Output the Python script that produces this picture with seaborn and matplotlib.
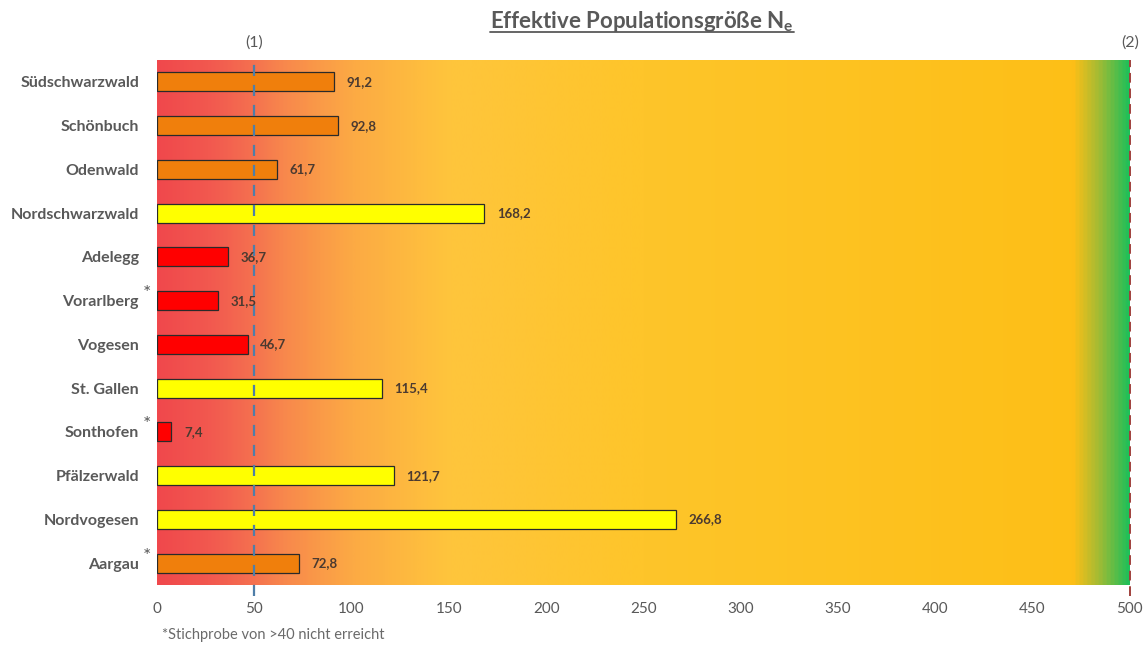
import matplotlib
matplotlib.use("Agg")
import matplotlib.pyplot as plt
import numpy as np
import seaborn as sns
from matplotlib.colors import LinearSegmentedColormap

# data
regions = ["Südschwarzwald", "Schönbuch", "Odenwald", "Nordschwarzwald", "Adelegg",
           "Vorarlberg", "Vogesen", "St. Gallen", "Sonthofen", "Pfälzerwald",
           "Nordvogesen", "Aargau"]
ne_values = [91.2, 92.8, 61.7, 168.2, 36.7, 31.5, 46.7, 115.4, 7.4, 121.7, 266.8, 72.8]
value_labels = ["91,2", "92,8", "61,7", "168,2", "36,7", "31,5", "46,7", "115,4",
                "7,4", "121,7", "266,8", "72,8"]
bar_colors = ["#f07f0c", "#f07f0c", "#f07f0c", "#ffff00", "#ff0000", "#ff0000",
              "#ff0000", "#ffff00", "#ff0000", "#ffff00", "#ffff00", "#f07f0c"]
starred = ["Vorarlberg", "Sonthofen", "Aargau"]
threshold_1 = 50
threshold_2 = 500

sns.set_theme(style="white")
plt.rcParams["font.family"] = ["Lato", "DejaVu Sans"]

fig = plt.figure(figsize=(11.48, 6.46), dpi=100)
ax = fig.add_axes([0.1368, 0.0944, 0.8473, 0.8127])

# background gradient red -> orange -> yellow -> green
stops = [(0.0, "#f0484c"), (0.05, "#f2584f"), (0.09, "#f46c50"), (0.13, "#f8894c"),
         (0.2, "#fcaa44"), (0.3, "#ffc53c"), (0.5, "#fec52a"), (0.945, "#fdbf17"),
         (0.97, "#a5bb33"), (1.0, "#22bf58")]
cmap = LinearSegmentedColormap.from_list("bg", stops)
grad = np.linspace(0, 1, 500).reshape(1, -1)
ax.imshow(grad, cmap=cmap, aspect="auto", extent=[0, threshold_2, 11.5, -0.5],
          zorder=0, interpolation="bilinear")

sns.barplot(x=ne_values, y=regions, hue=regions, palette=bar_colors, orient="h",
            width=0.43, edgecolor="#2a2a2a", linewidth=0.9, legend=False, ax=ax,
            saturation=1, zorder=3)

ax.set_xlim(0, threshold_2)
ax.set_ylim(11.5, -0.5)
ax.set_xticks(range(0, 501, 50))
ax.tick_params(axis="x", colors="#595959", labelsize=11, length=0, pad=12)
ax.tick_params(axis="y", colors="#595959", labelsize=11.5, length=0, pad=13)
for lab in ax.get_yticklabels():
    lab.set_fontweight("bold")
for s in ax.spines.values():
    s.set_visible(False)
ax.set_xlabel("")
ax.set_ylabel("")

# threshold lines
ax.axvline(threshold_1, ymin=-0.02, ymax=1.005, color="#4f7ea8", lw=1.6,
           ls=(0, (5, 4)), clip_on=False, zorder=4)
ax.axvline(threshold_2, ymin=-0.02, ymax=1.0, color="#a0403c", lw=1.4,
           ls=(0, (5, 3)), clip_on=False, zorder=4)

# value labels
for i, (v, t) in enumerate(zip(ne_values, value_labels)):
    ax.annotate(t, xy=(v, i), xytext=(9, 0), textcoords="offset points",
                va="center", ha="left", fontsize=9.5, fontweight="bold",
                color="#4b3a30", zorder=5)

# asterisks on starred regions
for i, r in enumerate(regions):
    if r in starred:
        ax.annotate("*", xy=(0, i), xycoords=("axes fraction", "data"),
                    xytext=(-10, 5), textcoords="offset points", ha="left",
                    va="center", fontsize=14, color="#595959")

ax.text(threshold_1, 1.02, "(1)", transform=ax.get_xaxis_transform(), ha="center",
        va="bottom", fontsize=11.5, color="#595959")
ax.text(threshold_2, 1.02, "(2)", transform=ax.get_xaxis_transform(), ha="center",
        va="bottom", fontsize=11.5, color="#595959")

# title with underline
title = fig.text(0.5595, 0.966, r"Effektive Populationsgröße N$_\mathregular{e}$",
                 ha="center", va="center", fontsize=16, fontweight="bold",
                 color="#595959")
fig.canvas.draw()
bb = title.get_window_extent().transformed(fig.transFigure.inverted())
fig.add_artist(plt.Line2D([bb.x0, bb.x1], [bb.y0 + 0.004, bb.y0 + 0.004],
                          color="#595959", lw=1.3))

fig.text(0.141, 0.006, "*Stichprobe von >40 nicht erreicht", ha="left", va="bottom",
         fontsize=10.5, color="#6a6a6a")

fig.savefig("out.png", dpi=100, facecolor="white")
